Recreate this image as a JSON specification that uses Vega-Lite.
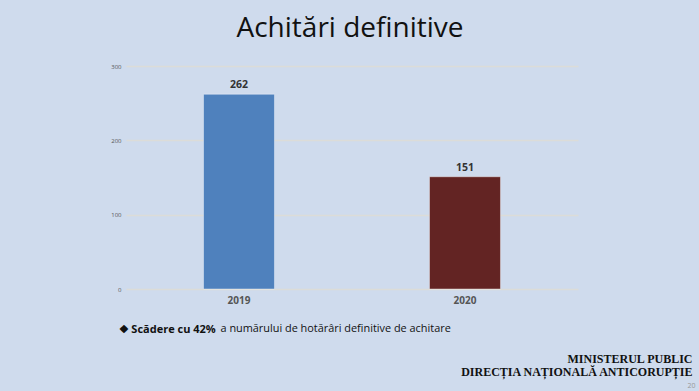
{
  "$schema": "https://vega.github.io/schema/vega-lite/v6.json",
  "width": 452,
  "height": 223,
  "autosize": "none",
  "padding": {"left": 126, "top": 66, "right": 121, "bottom": 102},
  "background": "#cfdbed",
  "title": {
    "text": "Achitări definitive",
    "font": "Open Sans",
    "fontSize": 28,
    "fontWeight": "normal",
    "color": "#111111",
    "anchor": "middle",
    "dx": -2,
    "offset": 20
  },
  "data": {
    "values": [
      {"year": "2019", "value": 262},
      {"year": "2020", "value": 151}
    ]
  },
  "config": {
    "view": {"stroke": null},
    "font": "Open Sans"
  },
  "resolve": {"axis": {"x": "independent", "y": "independent"}},
  "layer": [
    {
      "mark": {"type": "bar", "stroke": "#ffffff", "strokeOpacity": 0.4, "strokeWidth": 1},
      "encoding": {
        "x": {
          "field": "year",
          "type": "nominal",
          "scale": {"paddingInner": 0.686, "paddingOuter": 0.343},
          "axis": {
            "orient": "bottom",
            "labelAngle": 0,
            "labelFont": "Open Sans",
            "labelFontSize": 10,
            "labelFontWeight": "bold",
            "labelColor": "#555555",
            "labelPadding": 6,
            "domain": false,
            "ticks": false,
            "title": "❖ Scădere cu 42%",
            "titleFont": "Open Sans",
            "titleFontSize": 11,
            "titleFontWeight": "bold",
            "titleColor": "#111111",
            "titleAnchor": "start",
            "titleAlign": "left",
            "titleBaseline": "middle",
            "titleX": -8,
            "titleY": 40
          }
        },
        "y": {
          "field": "value",
          "type": "quantitative",
          "scale": {"domain": [0, 300]},
          "axis": {
            "orient": "left",
            "values": [0, 100, 200, 300],
            "labelFont": "Open Sans",
            "labelFontSize": 6,
            "labelColor": "#555555",
            "labelPadding": 5,
            "domain": false,
            "ticks": false,
            "grid": true,
            "gridColor": "#dcdcd8",
            "gridWidth": 1.5,
            "title": ["MINISTERUL PUBLIC", "DIRECȚIA NAȚIONALĂ ANTICORUPȚIE"],
            "titleFont": "Liberation Serif",
            "titleFontSize": 12,
            "titleFontWeight": "bold",
            "titleColor": "#111111",
            "titleAngle": 0,
            "titleAlign": "right",
            "titleBaseline": "middle",
            "titleLineHeight": 13,
            "titleX": 566,
            "titleY": 292
          }
        },
        "color": {
          "field": "year",
          "type": "nominal",
          "scale": {"domain": ["2019", "2020"], "range": ["#4f81bd", "#632423"]},
          "legend": null
        }
      }
    },
    {
      "mark": {
        "type": "text",
        "dy": -9,
        "fontSize": 10.5,
        "fontWeight": "bold",
        "color": "#333333",
        "font": "Open Sans"
      },
      "encoding": {
        "x": {
          "field": "year",
          "type": "nominal",
          "axis": {
            "orient": "top",
            "labels": false,
            "domain": false,
            "ticks": false,
            "title": "a numărului de hotărâri definitive de achitare",
            "titleFont": "Open Sans",
            "titleFontSize": 10.9,
            "titleFontWeight": "normal",
            "titleColor": "#111111",
            "titleAnchor": "start",
            "titleAlign": "left",
            "titleBaseline": "middle",
            "titleX": 94,
            "titleY": 262
          }
        },
        "y": {
          "field": "value",
          "type": "quantitative",
          "axis": {
            "orient": "right",
            "labels": false,
            "domain": false,
            "ticks": false,
            "grid": false,
            "title": "20",
            "titleFont": "Open Sans",
            "titleFontSize": 7,
            "titleFontWeight": "normal",
            "titleColor": "#999999",
            "titleAngle": 0,
            "titleAlign": "right",
            "titleBaseline": "middle",
            "titleX": 117,
            "titleY": 319
          }
        },
        "text": {"field": "value", "type": "quantitative"}
      }
    }
  ]
}
